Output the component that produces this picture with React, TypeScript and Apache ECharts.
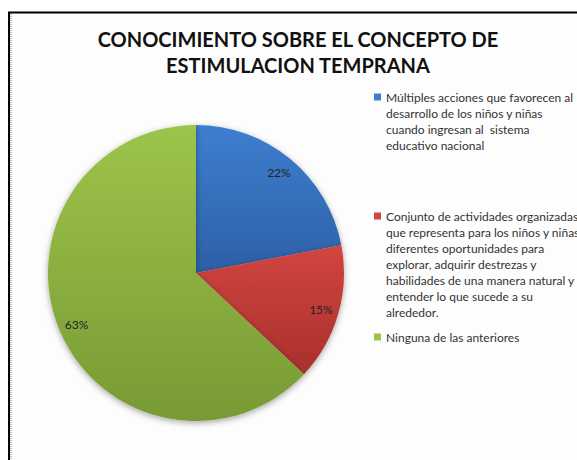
import React, { useEffect, useRef } from "react";
import * as echarts from "echarts";

const titleLines = ["CONOCIMIENTO SOBRE EL CONCEPTO DE", "ESTIMULACION TEMPRANA"];
const categories = [
  "Múltiples acciones que favorecen al\ndesarrollo de los niños y niñas\ncuando ingresan al  sistema\neducativo nacional",
  "Conjunto de actividades organizadas\nque representa para los niños y niñas\ndiferentes oportunidades para\nexplorar, adquirir destrezas y\nhabilidades de una manera natural y\nentender lo que sucede a su\nalrededor.",
  "Ninguna de las anteriores",
];
const values = [22, 15, 63];
const colorsTop = ["#3D7ED0", "#D2453F", "#9DC44A"];
const colorsBottom = ["#2D60A6", "#A8302D", "#789A35"];

const CX = 196;
const CY = 273;
const R = 148;
const LABEL_R = 125;
const LEGEND_LH = 16;
const legendTops = [89, 208, 329];

export default function App() {
  const ref = useRef<HTMLDivElement>(null);
  useEffect(() => {
    if (!ref.current) return;
    const chart = echarts.init(ref.current, null, { renderer: "svg" });
    const data = categories.map((name, i) => ({
      name,
      value: values[i],
      itemStyle: {
        color: new echarts.graphic.LinearGradient(0, 0, 0, 1, [
          { offset: 0, color: colorsTop[i] },
          { offset: 1, color: colorsBottom[i] },
        ]),
      },
    }));
    const legends = categories.map((name, i) => {
      const n = name.split("\n").length;
      const h = n * LEGEND_LH;
      const c = LEGEND_LH / 2;
      // square marker aligned with the first text line; tiny dots fix the box height
      const icon =
        `path://M0,0h0.01v0.01h-0.01z M0,${c - 3.5}h7v7h-7z M0,${h - 0.01}h0.01v0.01h-0.01z`;
      return {
        orient: "vertical",
        left: 374,
        top: legendTops[i],
        padding: 0,
        icon,
        itemWidth: 7,
        itemHeight: h,
        itemGap: 5,
        selectedMode: false,
        data: [
          {
            name,
            itemStyle: { color: colorsTop[i], borderWidth: 0 },
          },
        ],
        textStyle: {
          fontFamily: "Lato, 'Open Sans', sans-serif",
          fontSize: 12,
          color: "#333",
          lineHeight: LEGEND_LH,
        },
      };
    });
    chart.setOption({
      animation: false,
      backgroundColor: "#ffffff",
      title: {
        text: titleLines.join("\n"),
        left: 298,
        top: 26,
        textAlign: "center",
        padding: 0,
        textStyle: {
          fontFamily: "Lato, 'Open Sans', sans-serif",
          fontWeight: "bold",
          fontSize: 20,
          lineHeight: 26,
          color: "#111",
        },
      },
      graphic: [
        {
          type: "rect",
          z: -10,
          silent: true,
          shape: { x: 9, y: 12.5, width: 800, height: 800 },
          style: { fill: "#FDFDFD", stroke: "#000", lineWidth: 2 },
        },
        {
          type: "line",
          z: -9,
          silent: true,
          shape: { x1: 11, y1: 14, x2: 11, y2: 460 },
          style: { stroke: "#B0B0B0", lineWidth: 1.5, lineDash: [1, 1] },
        },
      ],
      legend: legends,
      series: [
        {
          type: "pie",
          center: [CX, CY],
          radius: [0, R],
          startAngle: 90,
          clockwise: true,
          silent: true,
          data,
          itemStyle: {
            borderWidth: 0,
            shadowBlur: 6,
            shadowOffsetY: 2,
            shadowColor: "rgba(0,0,0,0.35)",
          },
          label: {
            show: true,
            position: "inside",
            formatter: "{d}%",
            fontFamily: "Lato, 'Open Sans', sans-serif",
            fontSize: 12,
            color: "#222",
          },
          labelLine: { show: false },
          labelLayout: (p: any) => {
            const r = p.labelRect;
            const lx = r.x + r.width / 2;
            const ly = r.y + r.height / 2;
            const k = LABEL_R / (R / 2) - 1;
            return { dx: (lx - CX) * k, dy: (ly - CY) * k };
          },
        },
      ],
    });
    return () => chart.dispose();
  }, []);
  return (
    <div
      ref={ref}
      style={{ position: "absolute", left: 0, top: 0, width: 577, height: 460 }}
    />
  );
}
